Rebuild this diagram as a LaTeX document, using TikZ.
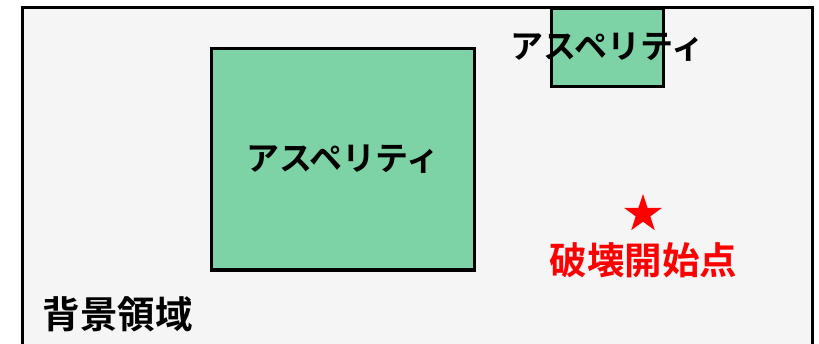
\documentclass[tikz,border=0pt]{standalone}
\usepackage{fontspec}
\newfontfamily\jpfont{Noto Sans CJK JP}[BoldFont={* Bold}]
\usetikzlibrary{shapes.geometric}
\definecolor{bgfill}{HTML}{F5F5F5}
\definecolor{asp}{HTML}{7DD3A5}
\definecolor{hypo}{HTML}{FF0000}
\tikzset{
  region/.style={draw=black,line width=3pt,fill=bgfill},
  aspbox/.style={draw=black,line width=3.3pt,fill=asp},
  asplabel/.style={inner sep=0pt,font=\jpfont\bfseries\fontsize{33}{33}\selectfont},
  biglabel/.style={inner sep=0pt,font=\jpfont\bfseries\fontsize{37.5}{37.5}\selectfont},
  hypostar/.style={star,star points=5,star point ratio=2.6,fill=hypo,draw=none,minimum size=40pt,inner sep=0pt}
}
\begin{document}
\begin{tikzpicture}[x=1pt,y=-1pt]
\useasboundingbox (0,0) rectangle (819,344);
\clip (0,0) rectangle (819,344);
\fill[white] (0,0) rectangle (819,344);
\draw[region] (22.5,7.5) rectangle (812,360);
\node[aspbox,minimum width=262.5pt,minimum height=221.5pt,inner sep=0pt,anchor=north west] (big) at (210,47) {};
\node[aspbox,minimum width=112pt,minimum height=78pt,inner sep=0pt,anchor=north west] (small) at (550,7) {};
\node[asplabel] (bigtxt) at (big.center) {アスペリティ};
\node[asplabel] (smalltxt) at (small.center) {アスペリティ};
\node[hypostar] (star) at (643,214) {};
\node[biglabel,text=hypo] (hypotxt) at (643.5,260) {破壊開始点};
\node[biglabel] (bgtxt) at (117.5,314.5) {背景領域};
\end{tikzpicture}
\end{document}
